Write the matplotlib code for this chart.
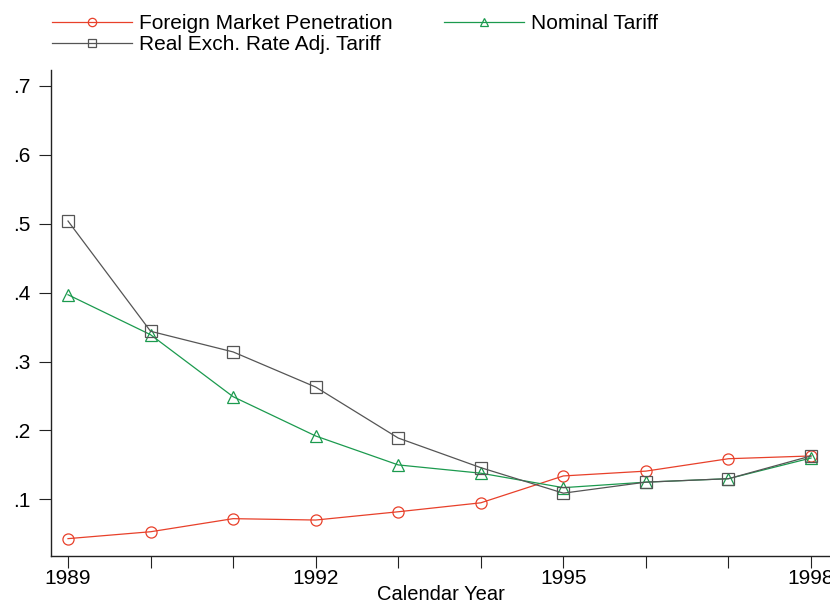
import matplotlib.pyplot as plt
import numpy as np
from matplotlib.ticker import FixedLocator, FuncFormatter

plt.rcParams['font.family'] = ['Liberation Sans', 'DejaVu Sans']

# data
years = [1989, 1990, 1991, 1992, 1993, 1994, 1995, 1996, 1997, 1998]
foreign_pen = [0.043, 0.053, 0.072, 0.070, 0.082, 0.095, 0.134, 0.141, 0.159, 0.163]
nominal_tariff = [0.397, 0.339, 0.249, 0.192, 0.150, 0.138, 0.117, 0.125, 0.130, 0.160]
real_tariff = [0.504, 0.344, 0.314, 0.263, 0.189, 0.146, 0.109, 0.125, 0.130, 0.163]
labeled_years = [1989, 1992, 1995, 1998]
y_ticks = [0.1, 0.2, 0.3, 0.4, 0.5, 0.6, 0.7]

red = '#e8402a'
green = '#1b9a4e'
gray = '#555555'

fig = plt.figure(figsize=(8.3, 6.05), dpi=100)
ax = fig.add_axes([51/830, 1-556/605, (830-51)/830, (556-70)/605])

kw = dict(lw=0.9, markersize=8, markerfacecolor='none', markeredgewidth=0.9)
l1, = ax.plot(years, foreign_pen, color=red, marker='o', label='Foreign Market Penetration', **kw)
l2, = ax.plot(years, nominal_tariff, color=green, marker='^', label='Nominal Tariff', **kw)
l3, = ax.plot(years, real_tariff, color=gray, marker='s', label='Real Exch. Rate Adj. Tariff', **kw)

ax.set_xlim(1988.794, 1998.23)
ax.set_ylim(0.0178, 0.7232)

ax.spines['top'].set_visible(False)
ax.spines['right'].set_visible(False)
for s in ['left', 'bottom']:
    ax.spines[s].set_linewidth(1.0)
    ax.spines[s].set_color('#222222')

ax.xaxis.set_major_locator(FixedLocator(years))
ax.xaxis.set_major_formatter(FuncFormatter(lambda v, p: str(int(round(v))) if int(round(v)) in labeled_years else ''))
ax.yaxis.set_major_locator(FixedLocator(y_ticks))
ax.yaxis.set_major_formatter(FuncFormatter(lambda v, p: ('%.1f' % v).lstrip('0')))
ax.tick_params(axis='both', direction='out', length=8.5, width=0.8, color='#222222', labelsize=15)
ax.tick_params(axis='x', pad=0.5)
ax.tick_params(axis='y', pad=6.5)
ax.set_xlabel('Calendar Year', fontsize=14.5, labelpad=-1.6)

fig.legend(handles=[l1, l3, l2], loc='upper left', bbox_to_anchor=(52/830, 1-14/605),
           ncol=2, frameon=False, fontsize=15, handlelength=3.85, handletextpad=0.34,
           columnspacing=2.45, labelspacing=0.1, borderpad=0, borderaxespad=0, markerscale=0.75)

fig.savefig('out.png', dpi=100)
